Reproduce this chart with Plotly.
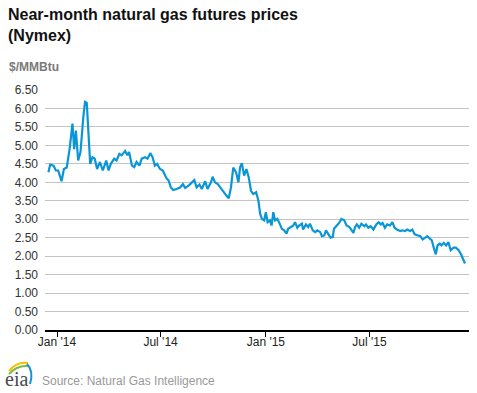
import plotly.graph_objects as go

dates = [
    "2013-12-17", "2013-12-20", "2013-12-26", "2013-12-30", "2014-01-03", "2014-01-09",
    "2014-01-13", "2014-01-18", "2014-01-23", "2014-01-25", "2014-01-28", "2014-01-31",
    "2014-02-03", "2014-02-07", "2014-02-11", "2014-02-16", "2014-02-19", "2014-02-22",
    "2014-02-28", "2014-03-04", "2014-03-08", "2014-03-12", "2014-03-17", "2014-03-22",
    "2014-03-28", "2014-04-01", "2014-04-05", "2014-04-11", "2014-04-15", "2014-04-20",
    "2014-04-24", "2014-04-30", "2014-05-04", "2014-05-07", "2014-05-12", "2014-05-16",
    "2014-05-20", "2014-05-25", "2014-05-29", "2014-06-04", "2014-06-08", "2014-06-13",
    "2014-06-17", "2014-06-21", "2014-06-25", "2014-06-30", "2014-07-05", "2014-07-11",
    "2014-07-15", "2014-07-19", "2014-07-23", "2014-07-29", "2014-08-04", "2014-08-09",
    "2014-08-13", "2014-08-19", "2014-08-25", "2014-08-29", "2014-09-02", "2014-09-07",
    "2014-09-11", "2014-09-17", "2014-09-21", "2014-09-27", "2014-09-30", "2014-10-04",
    "2014-10-09", "2014-10-13", "2014-10-19", "2014-10-24", "2014-10-28", "2014-11-01",
    "2014-11-05", "2014-11-10", "2014-11-14", "2014-11-17", "2014-11-20", "2014-11-24",
    "2014-11-28", "2014-12-02", "2014-12-06", "2014-12-10", "2014-12-15", "2014-12-19",
    "2014-12-22", "2014-12-25", "2014-12-29", "2015-01-01", "2015-01-04", "2015-01-08",
    "2015-01-11", "2015-01-14", "2015-01-17", "2015-01-21", "2015-01-24", "2015-01-29",
    "2015-02-02", "2015-02-06", "2015-02-09", "2015-02-13", "2015-02-18", "2015-02-21",
    "2015-02-25", "2015-02-28", "2015-03-05", "2015-03-07", "2015-03-12", "2015-03-16",
    "2015-03-19", "2015-03-24", "2015-03-28", "2015-04-01", "2015-04-06", "2015-04-09",
    "2015-04-13", "2015-04-16", "2015-04-20", "2015-04-24", "2015-04-28", "2015-04-30",
    "2015-05-05", "2015-05-09", "2015-05-13", "2015-05-18", "2015-05-22", "2015-05-27",
    "2015-05-31", "2015-06-03", "2015-06-06", "2015-06-09", "2015-06-13", "2015-06-17",
    "2015-06-22", "2015-06-25", "2015-06-29", "2015-07-03", "2015-07-08", "2015-07-13",
    "2015-07-17", "2015-07-21", "2015-07-24", "2015-07-28", "2015-08-01", "2015-08-06",
    "2015-08-10", "2015-08-14", "2015-08-18", "2015-08-24", "2015-08-28", "2015-09-01",
    "2015-09-05", "2015-09-10", "2015-09-14", "2015-09-18", "2015-09-24", "2015-09-28",
    "2015-10-02", "2015-10-06", "2015-10-10", "2015-10-15", "2015-10-18", "2015-10-21",
    "2015-10-24", "2015-10-25", "2015-10-28", "2015-11-01", "2015-11-04", "2015-11-08",
    "2015-11-12", "2015-11-16", "2015-11-20", "2015-11-25", "2015-11-29", "2015-12-04",
    "2015-12-08", "2015-12-11", "2015-12-15",
]

prices = [
    4.27, 4.48, 4.45, 4.32, 4.32, 4.03,
    4.36, 4.40, 4.90, 5.18, 5.59, 4.90,
    5.40, 4.59, 4.82, 5.77, 6.18, 6.15,
    4.50, 4.68, 4.64, 4.36, 4.55, 4.32,
    4.59, 4.32, 4.50, 4.64, 4.59, 4.77,
    4.73, 4.85, 4.73, 4.82, 4.45, 4.41,
    4.55, 4.45, 4.64, 4.68, 4.64, 4.79,
    4.68, 4.45, 4.50, 4.36, 4.32, 4.12,
    4.05, 3.86, 3.79, 3.82, 3.86, 3.95,
    3.85, 3.91, 4.00, 4.06, 3.86, 3.94,
    3.82, 4.03, 3.82, 4.00, 4.15, 4.00,
    3.95, 3.86, 3.73, 3.64, 3.57, 3.86,
    4.40, 4.27, 4.00, 4.41, 4.52, 4.18,
    4.36, 4.14, 3.77, 3.68, 3.73, 3.50,
    3.15, 3.01, 2.97, 3.19, 2.92, 2.97,
    2.83, 3.19, 2.97, 3.01, 2.92, 2.74,
    2.70, 2.61, 2.74, 2.79, 2.83, 2.92,
    2.77, 2.83, 2.88, 2.72, 2.86, 2.79,
    2.88, 2.70, 2.65, 2.70, 2.65, 2.54,
    2.56, 2.70, 2.61, 2.50, 2.52, 2.74,
    2.83, 2.90, 3.01, 2.97, 2.83, 2.79,
    2.70, 2.63, 2.79, 2.86, 2.77, 2.88,
    2.81, 2.86, 2.77, 2.81, 2.72, 2.86,
    2.92, 2.86, 2.90, 2.77, 2.86, 2.83,
    2.92, 2.77, 2.72, 2.68, 2.70, 2.68,
    2.72, 2.68, 2.72, 2.59, 2.56, 2.54,
    2.45, 2.50, 2.54, 2.47, 2.43, 2.25,
    2.07, 2.05, 2.29, 2.34, 2.29, 2.36,
    2.29, 2.38, 2.16, 2.23, 2.23, 2.16,
    2.05, 1.93, 1.80,
]

x_tick_dates = ["2014-01-01", "2014-07-01", "2015-01-01", "2015-07-01"]
x_tick_labels = ["Jan '14", "Jul '14", "Jan '15", "Jul '15"]

title_text = "Near-month natural gas futures prices<br>(Nymex)"
unit_text = "$/MMBtu"
source_text = "Source: Natural Gas Intelligence"
logo_text = "eia"

# plot area in pixels: x 45..469, y 90..330
PW, PH = 424.0, 240.0


def px(x):
    return (x - 45) / PW


def py(y):
    return (330 - y) / PH


def qpath(p0, p1, p2):
    return "M {:.4f},{:.4f} Q {:.4f},{:.4f} {:.4f},{:.4f}".format(
        px(p0[0]), py(p0[1]), px(p1[0]), py(p1[1]), px(p2[0]), py(p2[1]))


fig = go.Figure()
fig.add_trace(go.Scatter(
    x=dates, y=prices, mode="lines",
    line=dict(color="#0a96d6", width=2.2),
    hoverinfo="x+y", showlegend=False,
))

fig.update_layout(
    width=477, height=393,
    margin=dict(l=45, r=8, t=90, b=63),
    paper_bgcolor="white", plot_bgcolor="white",
    font=dict(family="Liberation Sans, Arial, sans-serif", size=12, color="#333333"),
    xaxis=dict(
        type="date",
        range=["2013-12-11", "2015-12-22"],
        tickvals=x_tick_dates, ticktext=x_tick_labels,
        showgrid=False, zeroline=False,
        showline=True, linecolor="#000000", linewidth=1.5,
        ticks="outside", ticklen=5, tickcolor="#000000", tickwidth=1,
        ticklabelstandoff=-5,
        tickfont=dict(size=12, color="#222222"),
        fixedrange=True,
    ),
    yaxis=dict(
        range=[0, 6.5], dtick=0.5, tick0=0, tickformat=".2f",
        showgrid=True, gridcolor="#c4c4c4", gridwidth=1,
        zeroline=False, showline=False, ticks="",
        ticklabelstandoff=6,
        tickfont=dict(size=12, color="#333333"),
        fixedrange=True,
    ),
    annotations=[
        dict(text="<b>" + title_text + "</b>", xref="paper", yref="paper",
             x=px(6), y=py(4), xanchor="left", yanchor="top", showarrow=False,
             align="left", font=dict(size=16, color="#111111")),
        dict(text="<b>" + unit_text + "</b>", xref="paper", yref="paper",
             x=px(7), y=py(67), xanchor="left", yanchor="middle", showarrow=False,
             font=dict(size=12, color="#7a7a7a")),
        dict(text=source_text, xref="paper", yref="paper",
             x=px(40), y=py(381), xanchor="left", yanchor="middle", showarrow=False,
             font=dict(size=12, color="#999999")),
        dict(text=logo_text, xref="paper", yref="paper",
             x=px(16.5), y=py(379), xanchor="center", yanchor="middle", showarrow=False,
             font=dict(family="Liberation Serif, DejaVu Serif, serif", size=20, color="#4a4a4a")),
    ],
    shapes=[
        dict(type="path", xref="paper", yref="paper",
             path=qpath((9, 371), (17, 361), (28, 363)),
             line=dict(color="#f2c300", width=2)),
        dict(type="path", xref="paper", yref="paper",
             path=qpath((9, 374), (17, 365), (28, 366)),
             line=dict(color="#7dbb42", width=2)),
        dict(type="path", xref="paper", yref="paper",
             path=qpath((27, 364), (34, 371), (30, 384)),
             line=dict(color="#1c8fd0", width=2)),
    ],
)

fig.write_html("out.html", config={"displayModeBar": False},
               post_script="document.body.style.margin='0';")
